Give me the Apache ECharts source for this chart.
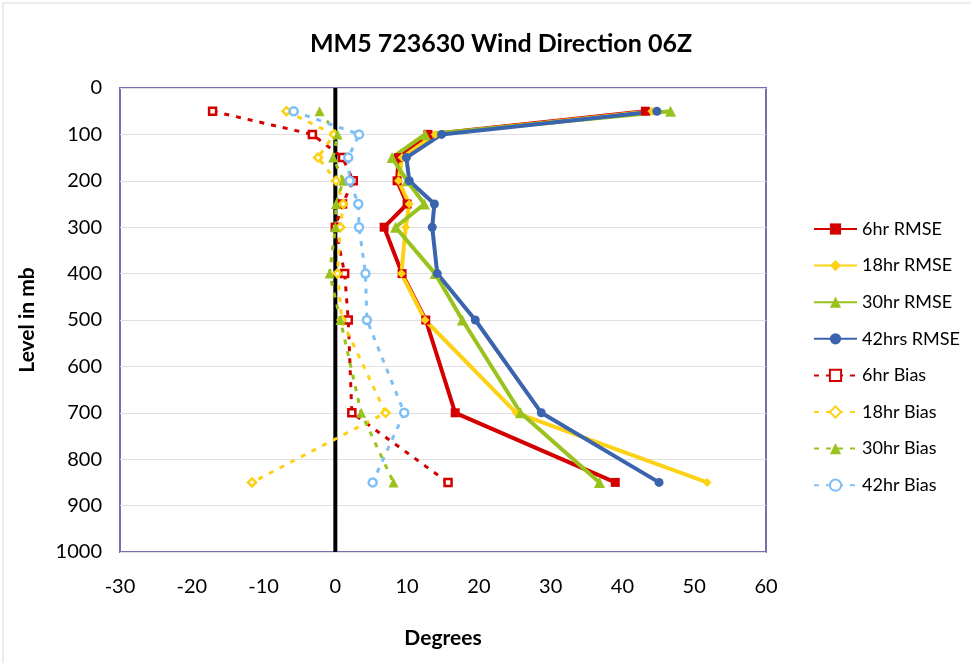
<!DOCTYPE html>
<html>
<head>
<meta charset="utf-8">
<script src="https://cdn.jsdelivr.net/npm/echarts@6/dist/echarts.min.js"></script>
<style>html,body{margin:0;padding:0;background:#fff}#c{width:971px;height:663px}</style>
</head>
<body>
<div id="c"></div>
<script>
var levels = [50, 100, 150, 200, 250, 300, 400, 500, 700, 850];
var rmse6  = [43.2, 12.9, 8.8, 8.6, 10.0, 6.8, 9.3, 12.6, 16.7, 39.0];
var rmse18 = [44.1, 13.9, 9.3, 8.8, 10.3, 9.8, 9.2, 12.5, 25.2, 51.8];
var rmse30 = [46.7, 12.5, 7.9, 10.0, 12.4, 8.4, 13.9, 17.7, 25.8, 36.8];
var rmse42 = [44.8, 14.8, 9.9, 10.3, 13.8, 13.5, 14.2, 19.5, 28.7, 45.1];
var bias6  = [-17.1, -3.2, 1.0, 2.5, 1.0, 0.0, 1.3, 1.8, 2.3, 15.7];
var bias18 = [-6.8, -0.2, -2.4, 0.1, 1.1, 0.7, 0.3, 0.9, 7.0, -11.6];
var bias30 = [-2.2, 0.3, -0.3, 1.1, 0.1, 0.0, -0.8, 0.7, 3.6, 8.1];
var bias42 = [-5.8, 3.3, 1.8, 2.0, 3.2, 3.3, 4.2, 4.4, 9.6, 5.2];
var zeroLine = [[0, 0], [0, 1000]];
var xTicks = [-30, 60, 10];
var yTicks = [0, 1000, 100];

var FONT = 'Lato';
function pairs(vals) { return vals.map(function (v, i) { return [v, levels[i]]; }); }

function rmse(name, vals, color, symbol, size) {
  return { name: name, type: 'line', data: pairs(vals), symbol: symbol, symbolSize: size,
    lineStyle: { color: color, width: 4 }, itemStyle: { color: color }, z: 5 };
}
function bias(name, vals, color, symbol, size, hollow) {
  return { name: name, type: 'line', data: pairs(vals), symbol: symbol, symbolSize: size,
    lineStyle: { color: color, width: 3, type: [5, 7] },
    itemStyle: hollow ? { color: '#fff', borderColor: color, borderWidth: 2.5 } : { color: color },
    z: 4 };
}

var chart = echarts.init(document.getElementById('c'));
chart.setOption({
  animation: false,
  backgroundColor: '#fff',
  textStyle: { fontFamily: FONT },
  title: { text: 'MM5 723630 Wind Direction 06Z', left: 496, textAlign: 'center', top: 26,
    textStyle: { fontFamily: FONT, fontWeight: 'bold', fontSize: 25, color: '#000' } },
  graphic: [{ type: 'rect', shape: { x: 3, y: 3, width: 1000, height: 700 },
    style: { fill: 'none', stroke: '#d9d9d9', lineWidth: 1 }, silent: true }],
  grid: { left: 120, right: 205, top: 88, bottom: 111, show: true, borderColor: '#7370b0', borderWidth: 2 },
  legend: {
    orient: 'vertical', left: 808, top: 215, itemWidth: 43, itemHeight: 14, itemGap: 18.6,
    textStyle: { fontFamily: FONT, fontSize: 18, color: '#000' },
    data: ['6hr RMSE', '18hr RMSE', '30hr RMSE', '42hrs RMSE', '6hr Bias', '18hr Bias', '30hr Bias', '42hr Bias']
  },
  xAxis: {
    type: 'value', min: xTicks[0], max: xTicks[1], interval: xTicks[2],
    name: 'Degrees', nameLocation: 'middle', nameGap: 76,
    nameTextStyle: { fontFamily: FONT, fontWeight: 'bold', fontSize: 21, color: '#000' },
    axisLine: { show: false }, axisTick: { show: false }, splitLine: { show: false },
    axisLabel: { fontFamily: FONT, fontSize: 20, color: '#000', margin: 25 }
  },
  yAxis: {
    type: 'value', inverse: true, min: yTicks[0], max: yTicks[1], interval: yTicks[2],
    name: 'Level in mb', nameLocation: 'middle', nameGap: 82, nameRotate: 90,
    nameTextStyle: { fontFamily: FONT, fontWeight: 'bold', fontSize: 21, color: '#000' },
    axisLine: { show: false }, axisTick: { show: false },
    splitLine: { show: true, lineStyle: { color: '#e0e0e0', width: 1 } },
    axisLabel: { fontFamily: FONT, fontSize: 20, color: '#000', margin: 18, formatter: function (v) { return String(v); } }
  },
  series: [
    { name: 'zero', type: 'line', data: zeroLine, symbol: 'none', lineStyle: { color: '#000', width: 4 }, z: 3, silent: true },
    rmse('6hr RMSE', rmse6, '#d40000', 'rect', 9),
    rmse('18hr RMSE', rmse18, '#fcd116', 'diamond', 9),
    rmse('30hr RMSE', rmse30, '#99c31c', 'triangle', 11),
    rmse('42hrs RMSE', rmse42, '#3a64ae', 'circle', 9),
    bias('6hr Bias', bias6, '#d40000', 'rect', 7, true),
    bias('18hr Bias', bias18, '#fcd116', 'diamond', 8, true),
    bias('30hr Bias', bias30, '#99c31c', 'triangle', 10, false),
    bias('42hr Bias', bias42, '#7ec0f6', 'circle', 8, true)
  ]
});
</script>
</body>
</html>
